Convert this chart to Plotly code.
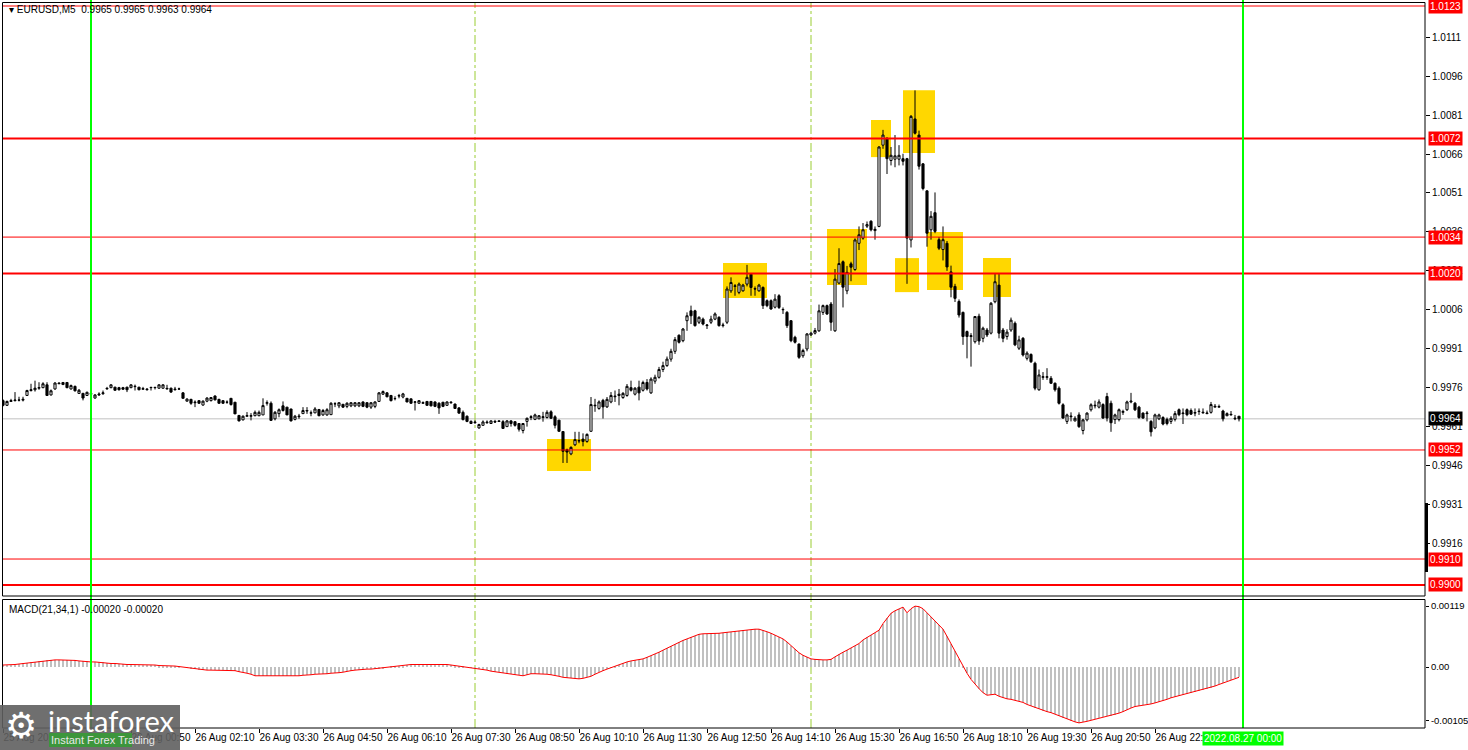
import plotly.graph_objects as go

# ---------------- DATA (prices in 1e-5 units, bars every 5 min) ----------------
first_bar = -22   # bar index relative to 26 Aug 00:00 (first bar = 25 Aug 22:10)

open_pts = [
    99710, 99692, 99707, 99710, 99712, 99712, 99730, 99749, 99752, 99758,
    99760, 99771, 99732, 99755, 99775, 99772, 99780, 99755, 99765, 99738,
    99738, 99730, 99735, 99720, 99732, 99737, 99755, 99760, 99762, 99760,
    99760, 99762, 99760, 99764, 99762, 99754, 99752, 99760, 99760, 99758,
    99758, 99755, 99758, 99752, 99755, 99740, 99708, 99715, 99702, 99710,
    99693, 99708, 99710, 99728, 99715, 99710, 99704, 99719, 99704, 99653,
    99636, 99650, 99650, 99652, 99652, 99655, 99700, 99700, 99640, 99660,
    99690, 99685, 99678, 99638, 99648, 99660, 99670, 99662, 99663, 99676,
    99655, 99655, 99656, 99698, 99690, 99696, 99688, 99690, 99690, 99690,
    99705, 99702, 99685, 99688, 99707, 99735, 99740, 99730, 99718, 99728,
    99724, 99719, 99717, 99704, 99700, 99700, 99707, 99707, 99705, 99700,
    99704, 99692, 99702, 99697, 99682, 99665, 99650, 99622, 99625, 99605,
    99615, 99625, 99622, 99630, 99632, 99629, 99610, 99632, 99629, 99622,
    99595, 99630, 99645, 99638, 99640, 99645, 99645, 99667, 99648, 99635,
    99591, 99521, 99505, 99540, 99555, 99562, 99553, 99592, 99690, 99680,
    99711, 99686, 99705, 99725, 99735, 99722, 99730, 99760, 99735, 99762,
    99750, 99780, 99740, 99785, 99800, 99830, 99845, 99870, 99900, 99962,
    99941, 100018, 100056, 100056, 100012, 100024, 99999, 100012, 100024, 100031,
    99999, 100012, 100133, 100150, 100127, 100133, 100159, 100197, 100140, 100133,
    100146, 100095, 100095, 100070, 100114, 100060, 100050, 100018, 99954, 99928,
    99883, 99909, 99963, 99970, 99979, 100050, 100076, 100082, 99979, 100163,
    100245, 100133, 100237, 100215, 100316, 100336, 100382, 100401, 100365, 100381,
    100694, 100720, 100635, 100640, 100640, 100642, 100642, 100329, 100795, 100733,
    100622, 100518, 100368, 100434, 100330, 100292, 100316, 100206, 100150, 100092,
    100050, 99976, 99957, 99937, 100035, 99950, 99982, 99970, 100091, 100155,
    99982, 99957, 99982, 100008, 99912, 99950, 99873, 99888, 99854, 99752,
    99800, 99800, 99796, 99777, 99758, 99694, 99630, 99648, 99632, 99655,
    99595, 99636, 99675, 99690, 99685, 99695, 99726, 99700, 99637, 99637,
    99665, 99675, 99705, 99700, 99685, 99662, 99660, 99630, 99605, 99640,
    99645, 99638, 99630, 99638, 99675, 99660, 99675, 99672, 99662, 99668,
    99663, 99660, 99665, 99685, 99685, 99670, 99652, 99655, 99640, 99650,
]
high_pts = [
    99715, 99710, 99717, 99743, 99725, 99725, 99752, 99775, 99787, 99781,
    99781, 99781, 99753, 99781, 99781, 99781, 99781, 99772, 99768, 99755,
    99740, 99745, 99745, 99735, 99742, 99749, 99763, 99773, 99763, 99763,
    99763, 99763, 99773, 99772, 99762, 99763, 99758, 99763, 99763, 99773,
    99773, 99771, 99760, 99763, 99760, 99743, 99719, 99717, 99711, 99711,
    99711, 99723, 99723, 99730, 99717, 99711, 99711, 99719, 99704, 99655,
    99653, 99666, 99662, 99672, 99672, 99719, 99711, 99707, 99670, 99680,
    99707, 99685, 99678, 99655, 99659, 99685, 99685, 99672, 99685, 99678,
    99678, 99681, 99704, 99704, 99704, 99697, 99704, 99704, 99704, 99704,
    99707, 99704, 99704, 99707, 99743, 99749, 99743, 99732, 99727, 99736,
    99740, 99719, 99717, 99708, 99711, 99707, 99707, 99707, 99707, 99704,
    99704, 99707, 99707, 99698, 99685, 99672, 99653, 99634, 99634, 99621,
    99634, 99634, 99634, 99636, 99635, 99635, 99635, 99635, 99630, 99622,
    99623, 99645, 99654, 99660, 99654, 99667, 99673, 99673, 99654, 99635,
    99591, 99525, 99534, 99590, 99590, 99584, 99584, 99724, 99717, 99711,
    99717, 99724, 99743, 99749, 99755, 99743, 99774, 99787, 99762, 99787,
    99787, 99793, 99800, 99810, 99840, 99860, 99880, 99910, 99955, 99965,
    99990, 100050, 100076, 100060, 100035, 100030, 100005, 100037, 100050, 100035,
    100010, 100150, 100185, 100159, 100165, 100160, 100233, 100200, 100150, 100160,
    100150, 100100, 100100, 100120, 100120, 100069, 100055, 100020, 99960, 99930,
    99910, 99970, 99975, 99990, 100080, 100080, 100080, 100090, 100217, 100297,
    100250, 100229, 100245, 100335, 100381, 100394, 100400, 100405, 100381, 100690,
    100753, 100725, 100687, 100733, 100694, 100661, 100645, 100810, 100905, 100750,
    100625, 100520, 100440, 100512, 100340, 100381, 100325, 100230, 100160, 100100,
    100053, 99980, 99970, 100036, 100045, 99995, 99990, 100090, 100200, 100200,
    99990, 99985, 100030, 100015, 99960, 99955, 99900, 99892, 99860, 99830,
    99820, 99835, 99805, 99780, 99765, 99700, 99660, 99665, 99650, 99665,
    99640, 99665, 99700, 99710, 99715, 99700, 99740, 99710, 99660, 99680,
    99675, 99710, 99740, 99705, 99690, 99665, 99670, 99635, 99660, 99660,
    99650, 99645, 99650, 99670, 99680, 99680, 99680, 99680, 99680, 99680,
    99680, 99672, 99705, 99697, 99695, 99675, 99665, 99670, 99655, 99650,
]
low_pts = [
    99688, 99690, 99705, 99707, 99707, 99707, 99728, 99745, 99745, 99752,
    99758, 99728, 99730, 99752, 99774, 99770, 99758, 99753, 99745, 99736,
    99711, 99728, 99733, 99718, 99728, 99732, 99753, 99758, 99749, 99749,
    99753, 99743, 99758, 99749, 99750, 99753, 99749, 99749, 99753, 99756,
    99756, 99753, 99740, 99749, 99753, 99719, 99707, 99694, 99685, 99698,
    99691, 99704, 99707, 99711, 99698, 99698, 99698, 99691, 99659, 99630,
    99634, 99650, 99634, 99650, 99650, 99655, 99691, 99634, 99634, 99646,
    99668, 99655, 99630, 99634, 99640, 99659, 99659, 99650, 99662, 99650,
    99652, 99652, 99655, 99685, 99681, 99682, 99681, 99685, 99685, 99685,
    99685, 99681, 99678, 99681, 99705, 99732, 99723, 99707, 99711, 99719,
    99719, 99704, 99698, 99672, 99698, 99698, 99691, 99688, 99685, 99659,
    99685, 99691, 99698, 99678, 99659, 99634, 99627, 99621, 99621, 99602,
    99614, 99621, 99621, 99624, 99629, 99603, 99610, 99610, 99610, 99591,
    99584, 99610, 99635, 99635, 99639, 99629, 99641, 99641, 99603, 99591,
    99470, 99470, 99500, 99535, 99546, 99534, 99548, 99591, 99667, 99675,
    99641, 99682, 99700, 99705, 99692, 99717, 99725, 99745, 99730, 99711,
    99745, 99749, 99736, 99775, 99795, 99820, 99840, 99860, 99890, 99930,
    99935, 99979, 100005, 99995, 100005, 100000, 99986, 100005, 100020, 99995,
    99992, 100005, 100125, 100114, 100120, 100130, 100150, 100114, 100114, 100130,
    100063, 100070, 100060, 100065, 100063, 100044, 99990, 99935, 99930, 99871,
    99875, 99900, 99960, 99965, 99975, 100040, 100040, 99979, 99975, 100158,
    100069, 100120, 100170, 100210, 100290, 100330, 100375, 100362, 100330, 100378,
    100680, 100583, 100616, 100609, 100616, 100616, 100160, 100300, 100735, 100600,
    100520, 100303, 100330, 100355, 100290, 100250, 100210, 100108, 100090, 100030,
    99925, 99873, 99841, 99930, 99925, 99935, 99955, 99965, 100085, 99950,
    99935, 99945, 99975, 99920, 99905, 99880, 99865, 99855, 99750, 99748,
    99790, 99790, 99775, 99745, 99695, 99640, 99620, 99630, 99630, 99605,
    99580, 99630, 99668, 99680, 99680, 99640, 99630, 99590, 99620, 99630,
    99655, 99670, 99700, 99670, 99640, 99640, 99630, 99572, 99600, 99635,
    99615, 99615, 99620, 99630, 99650, 99620, 99650, 99655, 99650, 99655,
    99660, 99658, 99660, 99684, 99684, 99630, 99650, 99653, 99635, 99630,
]
close_pts = [
    99692, 99707, 99710, 99712, 99712, 99715, 99749, 99752, 99758, 99760,
    99775, 99730, 99748, 99778, 99777, 99780, 99760, 99768, 99748, 99750,
    99720, 99742, 99737, 99732, 99735, 99740, 99757, 99771, 99750, 99752,
    99754, 99752, 99771, 99765, 99752, 99756, 99754, 99761, 99761, 99771,
    99771, 99757, 99743, 99754, 99755, 99719, 99716, 99700, 99704, 99700,
    99708, 99720, 99722, 99713, 99700, 99700, 99704, 99695, 99659, 99632,
    99650, 99652, 99652, 99665, 99665, 99691, 99702, 99634, 99665, 99675,
    99672, 99655, 99632, 99650, 99650, 99672, 99672, 99663, 99678, 99652,
    99672, 99675, 99700, 99698, 99702, 99685, 99700, 99702, 99702, 99702,
    99688, 99685, 99702, 99705, 99740, 99745, 99725, 99710, 99718, 99729,
    99736, 99705, 99700, 99705, 99710, 99702, 99692, 99690, 99688, 99682,
    99688, 99705, 99704, 99680, 99662, 99637, 99630, 99630, 99627, 99618,
    99628, 99627, 99632, 99628, 99630, 99603, 99632, 99622, 99615, 99600,
    99622, 99642, 99648, 99655, 99652, 99648, 99665, 99642, 99615, 99592,
    99515, 99512, 99530, 99560, 99556, 99553, 99580, 99695, 99692, 99705,
    99686, 99715, 99730, 99727, 99730, 99738, 99765, 99750, 99758, 99740,
    99780, 99755, 99793, 99800, 99830, 99845, 99870, 99900, 99945, 99935,
    99986, 100037, 100037, 99999, 100031, 100005, 100001, 100024, 100044, 99999,
    100001, 100140, 100165, 100152, 100159, 100155, 100185, 100146, 100141, 100155,
    100076, 100076, 100063, 100101, 100069, 100061, 99999, 99941, 99935, 99877,
    99903, 99967, 99970, 99980, 100056, 100076, 100044, 100012, 100178, 100238,
    100147, 100204, 100224, 100329, 100349, 100368, 100388, 100368, 100370, 100687,
    100733, 100642, 100655, 100653, 100655, 100632, 100336, 100805, 100740, 100613,
    100527, 100355, 100420, 100362, 100297, 100330, 100225, 100147, 100104, 100040,
    99957, 99957, 99960, 100034, 99940, 99989, 99963, 100085, 100168, 99970,
    99950, 99974, 100020, 99925, 99944, 99886, 99893, 99860, 99758, 99809,
    99802, 99802, 99777, 99752, 99700, 99643, 99655, 99650, 99642, 99610,
    99636, 99662, 99694, 99692, 99705, 99643, 99643, 99625, 99655, 99675,
    99668, 99705, 99708, 99675, 99645, 99643, 99662, 99590, 99655, 99655,
    99620, 99622, 99642, 99660, 99656, 99662, 99656, 99658, 99664, 99669,
    99665, 99662, 99695, 99688, 99687, 99640, 99660, 99657, 99642, 99640,
]
# MACD(21,34,1) main values in 1e-5 units, one per bar
macd_pts = [
    4, 4, 5, 5, 6, 7, 8, 9, 10, 11,
    12, 13, 13, 14, 14, 14, 14, 13, 13, 12,
    11, 11, 10, 10, 9, 9, 8, 7, 7, 6,
    6, 5, 5, 5, 5, 4, 4, 4, 4, 3,
    3, 3, 2, 2, 1, 0, -1, -2, -3, -5,
    -5, -6, -6, -6, -6, -6, -7, -7, -7, -9,
    -10, -12, -14, -17, -17, -17, -17, -18, -18, -18,
    -17, -17, -17, -17, -17, -16, -16, -15, -14, -14,
    -13, -13, -12, -12, -11, -10, -8, -7, -6, -5,
    -5, -4, -4, -3, -3, -2, 0, 1, 1, 2,
    3, 4, 5, 5, 5, 6, 6, 6, 6, 6,
    5, 5, 4, 3, 2, 1, 0, -1, -2, -3,
    -5, -6, -8, -9, -10, -12, -13, -14, -15, -16,
    -17, -15, -13, -13, -13, -13, -14, -15, -16, -18,
    -20, -21, -22, -23, -23, -22, -20, -18, -14, -10,
    -7, -4, -1, 2, 5, 8, 10, 12, 13, 14,
    16, 19, 22, 25, 29, 33, 37, 41, 45, 49,
    52, 55, 58, 61, 64, 65, 65, 66, 66, 66,
    67, 68, 69, 70, 71, 72, 72, 73, 74, 74,
    72, 69, 66, 62, 58, 55, 49, 42, 35, 28,
    23, 19, 16, 15, 14, 14, 14, 15, 20, 25,
    29, 33, 37, 41, 46, 53, 58, 62, 67, 72,
    85, 95, 105, 110, 113, 117, 106, 114, 119, 118,
    114, 106, 97, 90, 82, 74, 60, 45, 32, 16,
    2, -12, -24, -34, -42, -50, -55, -54, -53, -57,
    -60, -62, -63, -65, -66, -69, -73, -76, -79, -82,
    -85, -87, -89, -92, -95, -99, -102, -105, -107, -109,
    -108, -106, -104, -102, -100, -98, -96, -95, -93, -90,
    -87, -83, -80, -77, -76, -74, -73, -72, -70, -68,
    -66, -63, -60, -58, -56, -54, -52, -50, -48, -46,
    -44, -42, -40, -37, -34, -31, -28, -25, -22, -20,
]

# time-axis labels (first one is on 25 Aug, the rest on 26 Aug)
time_labels = ["25 Aug 2022 22:10", "26 Aug 00:50", "26 Aug 02:10", "26 Aug 03:30",
               "26 Aug 04:50", "26 Aug 06:10", "26 Aug 07:30", "26 Aug 08:50",
               "26 Aug 10:10", "26 Aug 11:30", "26 Aug 12:50", "26 Aug 14:10",
               "26 Aug 15:30", "26 Aug 16:50", "26 Aug 18:10", "26 Aug 19:30",
               "26 Aug 20:50", "26 Aug 22:10"]

price_ticks = [1.0111, 1.0096, 1.0081, 1.0066, 1.0051, 1.0036, 1.0021, 1.0006,
               0.9991, 0.9976, 0.9961, 0.9946, 0.9931, 0.9916]
red_levels = [1.0123, 1.0072, 1.0034, 1.0020, 0.9952, 0.9910, 0.9900]
thick_levels = [1.0072, 1.0020, 0.9900]
bid_price = 0.9964
macd_ticks = [0.00119, 0.0, -0.00105]
macd_tick_text = ["0.00119", "0.00", "-0.00105"]

# highlighted zones: (bar from, bar to, price low, price high)
zones = [
    (114, 125, 0.99439, 0.99562),
    (158, 169, 1.00105, 1.00240),
    (184, 194, 1.00155, 1.00371),
    (195, 200, 1.00648, 1.00791),
    (203, 211, 1.00664, 1.00906),
    (201, 207, 1.00128, 1.00259),
    (209, 218, 1.00136, 1.00360),
    (223, 230, 1.00109, 1.00259),
]
day_lines = [0, 288]          # 26 Aug 00:00 and 27 Aug 00:00
session_lines = [96, 180]     # 08:00 and 15:00

# ---------------- BUILD ----------------
W, H = 1468, 750
def PX(px): return px / W
def PY(py): return 1 - py / H

n = len(close_pts)
bars = list(range(first_bar, first_bar + n))
o = [v / 1e5 for v in open_pts]
h = [v / 1e5 for v in high_pts]
l = [v / 1e5 for v in low_pts]
c = [v / 1e5 for v in close_pts]
macd = [v / 1e5 for v in macd_pts]

def label_bar(s):
    hh, mm = s.split()[-1].split(":")
    minutes = int(hh) * 60 + int(mm)
    if s.startswith("25"):
        minutes -= 24 * 60
    return minutes // 5

tick_bars = [label_bar(s) for s in time_labels]

FONT = "Liberation Sans"
fig = go.Figure()
fig.add_trace(go.Candlestick(
    x=bars, open=o, high=h, low=l, close=c,
    increasing=dict(line=dict(color="black", width=1), fillcolor="white"),
    decreasing=dict(line=dict(color="black", width=1), fillcolor="black"),
    whiskerwidth=0, xaxis="x", yaxis="y", hoverinfo="skip"))
fig.add_trace(go.Bar(x=bars, y=macd, marker=dict(color="#C0C0C0", line=dict(width=0)),
                     width=0.5, xaxis="x2", yaxis="y2", hoverinfo="skip"))
fig.add_trace(go.Scatter(x=bars, y=macd, mode="lines", line=dict(color="#FF0000", width=1),
                         xaxis="x2", yaxis="y2", hoverinfo="skip"))

shapes = []
for x0, x1, y0, y1 in zones:
    shapes.append(dict(type="rect", xref="x", yref="y", x0=x0, x1=x1, y0=y0, y1=y1,
                       fillcolor="#FFD700", line=dict(width=0), layer="below"))
shapes.append(dict(type="line", xref="paper", yref="y", x0=PX(3), x1=PX(1425),
                   y0=bid_price, y1=bid_price, line=dict(color="#C0C0C0", width=1), layer="below"))
for lv in red_levels:
    shapes.append(dict(type="line", xref="paper", yref="y", x0=PX(3), x1=PX(1425),
                       y0=lv, y1=lv,
                       line=dict(color="#FF0000", width=2 if lv in thick_levels else 1)))
for b in session_lines:
    shapes.append(dict(type="line", xref="x", yref="paper", x0=b, x1=b, y0=PY(728), y1=PY(3),
                       line=dict(color="#9ACD32", width=1, dash="dashdot"), layer="below"))
for b in day_lines:
    shapes.append(dict(type="line", xref="x", yref="paper", x0=b, x1=b, y0=PY(728), y1=PY(0),
                       line=dict(color="#00FF00", width=2)))
shapes.append(dict(type="rect", xref="paper", yref="paper", x0=PX(2.5), x1=PX(1425),
                   y0=PY(596), y1=PY(2.5), line=dict(color="black", width=1)))
shapes.append(dict(type="rect", xref="paper", yref="paper", x0=PX(2.5), x1=PX(1425),
                   y0=PY(728), y1=PY(599.5), line=dict(color="black", width=1)))
shapes.append(dict(type="rect", xref="paper", yref="paper", x0=PX(1425), x1=PX(1428),
                   y0=PY(572), y1=PY(503), fillcolor="black", line=dict(width=0)))
# watermark
shapes.append(dict(type="rect", xref="paper", yref="paper", x0=0, x1=PX(180),
                   y0=0, y1=PY(705), fillcolor="rgba(95,95,95,0.9)", line=dict(width=0),
                   layer="above"))
shapes.append(dict(type="rect", xref="paper", yref="paper", x0=PX(49), x1=PX(132),
                   y0=PY(747), y1=PY(733), fillcolor="#3C963C", line=dict(width=0),
                   layer="above"))

ann = []
for lv in red_levels:
    ann.append(dict(xref="paper", yref="y", x=PX(1428), y=lv, xanchor="left", yanchor="middle",
                    text=f"{lv:.4f}", showarrow=False, bgcolor="#FF0000", borderpad=1,
                    font=dict(family=FONT, size=10, color="white")))
ann.append(dict(xref="paper", yref="y", x=PX(1428), y=bid_price, xanchor="left", yanchor="middle",
                text=f"{bid_price:.4f}", showarrow=False, bgcolor="black", borderpad=1,
                font=dict(family=FONT, size=10, color="white")))
ann.append(dict(xref="x2", yref="paper", x=day_lines[1], y=PY(738), xanchor="center",
                yanchor="middle", text="2022.08.27 00:00", showarrow=False, bgcolor="#00FF00",
                borderpad=1, font=dict(family=FONT, size=10, color="white")))
ann.append(dict(xref="paper", yref="paper", x=PX(7), y=PY(10), xanchor="left", yanchor="middle",
                text="▾ EURUSD,M5  0.9965 0.9965 0.9963 0.9964", showarrow=False,
                font=dict(family=FONT, size=10, color="black")))
ann.append(dict(xref="paper", yref="paper", x=PX(7), y=PY(609), xanchor="left", yanchor="middle",
                text="MACD(21,34,1) -0.00020 -0.00020", showarrow=False,
                font=dict(family=FONT, size=10, color="black")))
ann.append(dict(xref="paper", yref="paper", x=PX(3), y=PY(725), xanchor="left", yanchor="middle",
                text="⚙", showarrow=False, font=dict(family="DejaVu Sans", size=36, color="white")))
ann.append(dict(xref="paper", yref="paper", x=PX(46), y=PY(720), xanchor="left", yanchor="middle",
                text="instaforex", showarrow=False, font=dict(family="Lato", size=29, color="white")))
ann.append(dict(xref="paper", yref="paper", x=PX(49), y=PY(740), xanchor="left", yanchor="middle",
                text="Instant Forex Trading", showarrow=False,
                font=dict(family=FONT, size=11, color="#E8E8E8")))

axis_font = dict(family=FONT, size=10, color="black")
fig.update_layout(
    width=W, height=H, autosize=False, margin=dict(l=0, r=0, t=0, b=0, autoexpand=False),
    paper_bgcolor="white", plot_bgcolor="white", showlegend=False,
    boxgap=0.25, bargap=0, hovermode=False,
    xaxis=dict(domain=[PX(3), PX(1425)], range=[-22, 333.5], showticklabels=False,
               showgrid=False, zeroline=False, rangeslider=dict(visible=False),
               anchor="y", fixedrange=True, automargin=False),
    xaxis2=dict(domain=[PX(3), PX(1425)], range=[-22, 333.5], matches="x", anchor="y2",
                tickmode="array", tickvals=tick_bars, ticktext=time_labels, tickangle=0,
                ticks="outside", ticklen=4, tickcolor="black", ticklabelposition="outside right",
                tickfont=axis_font, showgrid=False, zeroline=False, showline=False,
                automargin=False),
    yaxis=dict(domain=[PY(596), PY(3)], range=[0.989576, 1.012416], side="right",
               anchor="x", tickmode="array", tickvals=price_ticks,
               ticktext=[f"{t:.4f}" for t in price_ticks], ticks="outside", ticklen=4,
               tickcolor="black", tickfont=axis_font, showgrid=False, zeroline=False,
               showline=False, fixedrange=True, automargin=False),
    yaxis2=dict(domain=[PY(728), PY(600)], range=[-0.00119, 0.00131], side="right",
                anchor="x2", tickmode="array", tickvals=macd_ticks, ticktext=macd_tick_text,
                ticks="outside", ticklen=3, tickcolor="black",
                tickfont=dict(family=FONT, size=9.5, color="black"),
                showgrid=False, zeroline=False, showline=False, fixedrange=True,
                automargin=False),
    shapes=shapes, annotations=ann,
)
fig.write_html("out.html", config={"displayModeBar": False},
               post_script="document.body.style.margin='0px';document.body.style.overflow='hidden';")
